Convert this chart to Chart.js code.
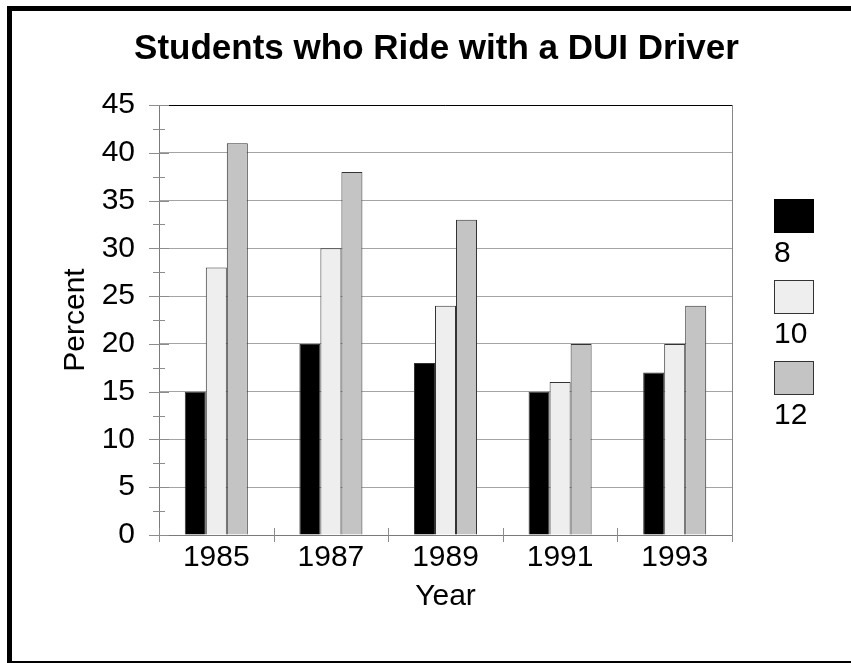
<!DOCTYPE html>
<html>
<head>
<meta charset="utf-8">
<title>Students who Ride with a DUI Driver</title>
<script src="https://cdn.jsdelivr.net/npm/chart.js@4.4.1/dist/chart.umd.min.js"></script>
<style>
    html, body { margin: 0; padding: 0; background: #fff; overflow: hidden; }
    #wrap { position: relative; width: 851px; height: 663px; overflow: hidden; font-family: "Liberation Sans", Arial, sans-serif; }
    .edge { position: absolute; background: #000; }
    #edgeTop { left: 7px; top: 6px; width: 844px; height: 5px; }
    #edgeLeft { left: 7px; top: 6px; width: 5px; height: 657px; }
    #edgeBottom { left: 7px; top: 661px; width: 844px; height: 2px; }
    #chart { position: absolute; left: 0; top: 0; }
    #chartTitle { position: absolute; left: 0; top: 26px; width: 873px; text-align: center; font-weight: bold; font-size: 35px; line-height: 42px; color: #000; }
    #legend { position: absolute; left: 774px; top: 199px; }
    .legend-item { height: 81px; }
    .legend-box { width: 38px; height: 32px; border: 1px solid #333; }
    .legend-label { font-size: 30px; line-height: 36px; margin-top: 1px; color: #000; }
</style>
</head>
<body>
<div id="wrap">
    <div class="edge" id="edgeTop"></div>
    <div class="edge" id="edgeLeft"></div>
    <div class="edge" id="edgeBottom"></div>
    <canvas id="chart" width="851" height="663"></canvas>
    <div id="chartTitle">Students who Ride with a DUI Driver</div>
    <div id="legend"></div>
</div>
<script>
// Percent of students riding with a driver under the influence, by grade and survey year.
const years = ['1985', '1987', '1989', '1991', '1993'];
const grades = ['8', '10', '12'];
const grade8 = [15, 20, 18, 15, 17];
const grade10 = [28, 30, 24, 16, 20];
const grade12 = [41, 38, 33, 20, 24];
const yTickLabels = [0, 5, 10, 15, 20, 25, 30, 35, 40, 45];

const fills = ['#000000', '#eeeeee', '#c4c4c4'];
const FONT = '"Liberation Sans", Arial, sans-serif';

const datasets = [grade8, grade10, grade12].map((values, i) => ({
    label: grades[i],
    data: values,
    backgroundColor: fills[i],
    borderColor: '#333',
    borderWidth: 1,
    barPercentage: 1,
    categoryPercentage: 0.55
}));

// Ticks that cross the axes, plus the black top edge and grey right edge of the plot.
const axisMarks = {
    id: 'axisMarks',
    afterDraw(chart) {
        const { ctx, chartArea: area, scales: { x, y } } = chart;
        ctx.save();
        ctx.lineWidth = 1;

        ctx.strokeStyle = '#000';
        ctx.beginPath();
        ctx.moveTo(area.left, area.top + 0.5);
        ctx.lineTo(area.right, area.top + 0.5);
        ctx.stroke();

        ctx.strokeStyle = '#888';
        ctx.beginPath();
        ctx.moveTo(area.right + 0.5, area.top);
        ctx.lineTo(area.right + 0.5, area.bottom);
        ctx.stroke();

        ctx.strokeStyle = '#8c8c8c';
        y.ticks.forEach(t => {
            const py = Math.round(y.getPixelForValue(t.value)) + 0.5;
            const half = yTickLabels.includes(t.value) ? 10 : 6;
            ctx.beginPath();
            ctx.moveTo(area.left - half, py);
            ctx.lineTo(area.left + half, py);
            ctx.stroke();
        });

        for (let i = 0; i <= years.length; i++) {
            let px;
            if (i === 0) px = area.left;
            else if (i === years.length) px = area.right;
            else px = (x.getPixelForValue(i - 1) + x.getPixelForValue(i)) / 2;
            px = Math.round(px) + 0.5;
            ctx.beginPath();
            ctx.moveTo(px, area.bottom - 7);
            ctx.lineTo(px, area.bottom + 7);
            ctx.stroke();
        }
        ctx.restore();
    }
};

new Chart(document.getElementById('chart').getContext('2d'), {
    type: 'bar',
    data: { labels: years, datasets },
    plugins: [axisMarks],
    options: {
        responsive: false,
        animation: false,
        layout: { padding: { left: 18, right: 119, top: 105, bottom: 0 } },
        plugins: {
            legend: { display: false },
            title: { display: false },
            tooltip: { enabled: false }
        },
        scales: {
            x: {
                grid: { display: false, drawTicks: false },
                border: { color: '#7a7a7a' },
                ticks: { color: '#000', font: { family: FONT, size: 30 }, padding: 5 },
                title: { display: true, text: 'Year', color: '#000', font: { family: FONT, size: 30 }, padding: { top: 0, bottom: 48 } },
                afterFit: (scale) => { scale.height = 128; }
            },
            y: {
                min: 0,
                max: 45,
                grid: {
                    drawTicks: false,
                    color: (c) => yTickLabels.includes(c.tick.value) ? '#a4a4a4' : 'rgba(0,0,0,0)'
                },
                border: { color: '#7a7a7a' },
                ticks: {
                    stepSize: 2.5,
                    autoSkip: false,
                    color: '#000',
                    font: { family: FONT, size: 30 },
                    padding: 24,
                    callback: (v) => yTickLabels.includes(v) ? String(v) : ''
                },
                title: { display: true, text: 'Percent', color: '#000', font: { family: FONT, size: 30 }, padding: { top: 40, bottom: 0 } },
                afterFit: (scale) => { scale.width = 141; }
            }
        }
    }
});

// Legend: swatch on top, grade label underneath, stacked down the right side.
document.getElementById('legend').innerHTML = datasets.map(d => `
    <div class="legend-item">
        <div class="legend-box" style="background:${d.backgroundColor};${d.backgroundColor === '#000000' ? 'border-color:#000;' : ''}"></div>
        <div class="legend-label">${d.label}</div>
    </div>
`).join('');
</script>
</body>
</html>
